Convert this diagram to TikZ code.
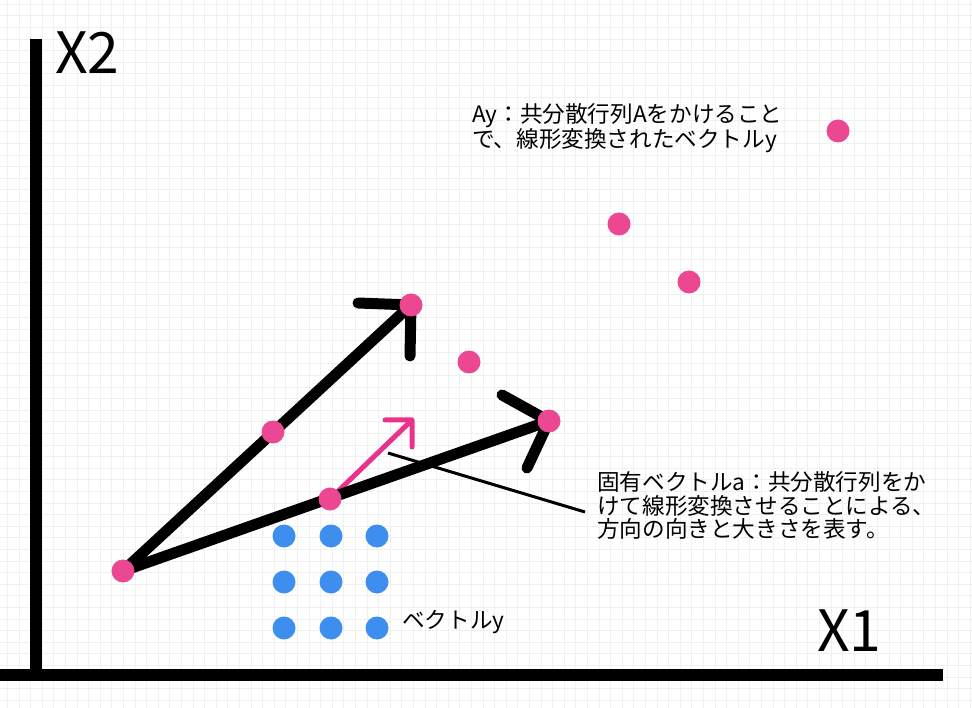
\documentclass[tikz,border=0pt]{standalone}
\usepackage{fontspec}
\setmainfont{Noto Sans CJK JP}
\usetikzlibrary{positioning}
\definecolor{dotpink}{RGB}{236,72,146}
\definecolor{arrowpink}{RGB}{232,50,140}
\definecolor{dotblue}{RGB}{62,142,240}
\definecolor{gridgray}{RGB}{240,240,240}
\pgfdeclarelayer{bg}
\pgfsetlayers{bg,main}

\begin{document}
\begin{tikzpicture}[x=1pt, y=-1pt,
  pdot/.style = {circle, fill=dotpink, minimum size=23pt, inner sep=0pt},
  bdot/.style = {circle, fill=dotblue, minimum size=23pt, inner sep=0pt},
  vec/.style = {line width=11pt, line cap=round, line join=round},
  axis/.style = {line width=12pt},
  txt/.style = {font=\fontsize{22.6}{23.8}\selectfont, align=left, inner sep=0pt},
  big/.style = {font=\fontsize{57}{57}\selectfont, inner sep=0pt}]
  \useasboundingbox (0,0) rectangle (972,708);

  \node[pdot] (1) at (123,571) {};
  \node[pdot] (2) at (273,432) {};
  \node[pdot] (3) at (411,305) {};
  \node[pdot] (4) at (330,499) {};
  \node[pdot] (5) at (549,421) {};
  \node[pdot] (6) at (469,362) {};
  \node[pdot] (7) at (689,282) {};
  \node[pdot] (8) at (619,224) {};
  \node[pdot] (9) at (838,131) {};

  \foreach \x/\i in {284/1,331/2,377/3}
    \foreach \y/\j in {536/1,582/2,628/3}
      \node[bdot] (b\i\j) at (\x,\y) {};

  \coordinate (ptip) at (412,420);
  \coordinate (lead1) at (388,453);
  \coordinate (lead2) at (585,512);

  \begin{pgfonlayer}{bg}
    \foreach \i in {0,...,83}
      \draw[gridgray, line width=1pt] ({7.4+11.6*\i},0) -- ({7.4+11.6*\i},708);
    \foreach \j in {0,...,61}
      \draw[gridgray, line width=1pt] (0,{4.3+11.6*\j}) -- (972,{4.3+11.6*\j});

    \draw[axis] (36,39) -- (36,675);
    \draw[axis] (0,675) -- (943,675);

    \draw[arrowpink, line width=5pt, line cap=round, line join=round]
      (4.center) -- (ptip) -- +(0,27) (ptip) -- +(-27,0);
    \draw[vec] (1.center) -- (3.center) -- +(-1,51) (3.center) -- +(-53,-2);
    \draw[vec] (1.center) -- (5.center) -- +(-22,47) (5.center) -- +(-47,-26);
    \draw[line width=3pt] (lead1) -- (lead2);
  \end{pgfonlayer}

  \node[txt, anchor=north west] (ay) at (472,103)
    {Ay：共分散行列Aをかけること\\で、線形変換されたベクトルy};
  \node[txt, anchor=north west] (eig) at (597,471)
    {固有ベクトルa：共分散行列をか\\けて線形変換させることによる、\\方向の向きと大きさを表す。};
  \node[txt, anchor=west] (vy) at (402,622) {ベクトルy};

  \node[big, anchor=north west] (x2) at (55,32) {X2};
  \node[big, anchor=north west] (x1) at (817,610) {X1};
\end{tikzpicture}
\end{document}
